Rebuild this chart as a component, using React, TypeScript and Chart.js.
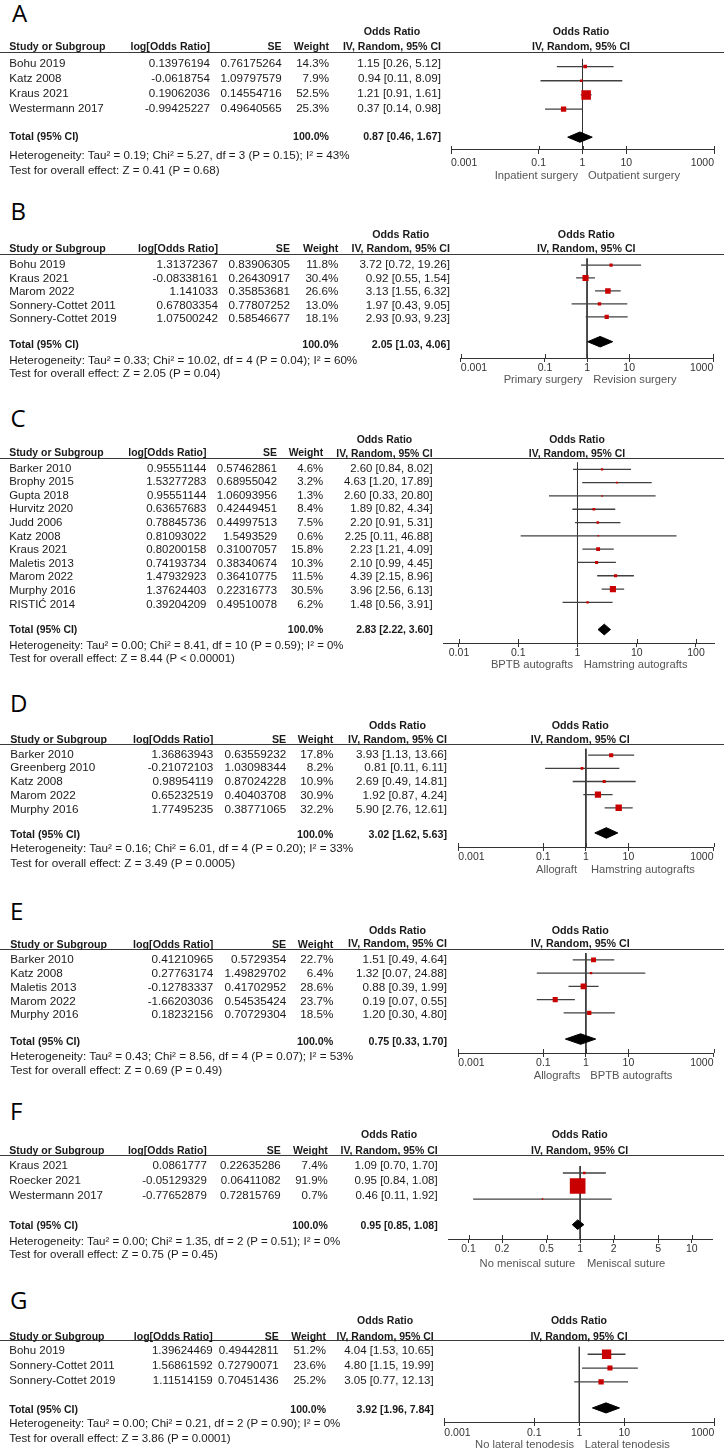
import React, { useEffect, useRef } from "react";
import { Chart, registerables } from "chart.js";

Chart.register(...registerables);

const FONT = '"Liberation Sans", Arial, Helvetica, sans-serif';
const W = 724;

// ---------------- Data ----------------
const ticksWide = [0.001, 0.1, 1, 10, 1000];
const tickLabelsWide = ["0.001", "0.1", "1", "10", "1000"];
const ticksC = [0.01, 0.1, 1, 10, 100];
const tickLabelsC = ["0.01", "0.1", "1", "10", "100"];
const ticksF = [0.1, 0.2, 0.5, 1, 2, 5, 10];
const tickLabelsF = ["0.1", "0.2", "0.5", "1", "2", "5", "10"];
const totalWeightLabel = "100.0%";

// Panel A
const studiesA = ["Bohu 2019", "Katz 2008", "Kraus 2021", "Westermann 2017"];
const logOrA = [0.13976194, -0.0618754, 0.19062036, -0.99425227];
const seA = [0.76175264, 1.09797579, 0.14554716, 0.49640565];
const weightA = [14.3, 7.9, 52.5, 25.3];
const orA = [1.15, 0.94, 1.21, 0.37];
const lowA = [0.26, 0.11, 0.91, 0.14];
const highA = [5.12, 8.09, 1.61, 0.98];
const totalA = [0.87, 0.46, 1.67];
const hetA = "Heterogeneity: Tau² = 0.19; Chi² = 5.27, df = 3 (P = 0.15); I² = 43%";
const testA = "Test for overall effect: Z = 0.41 (P = 0.68)";
const favA = ["Inpatient surgery", "Outpatient surgery"];

// Panel B
const studiesB = ["Bohu 2019", "Kraus 2021", "Marom 2022", "Sonnery-Cottet 2011", "Sonnery-Cottet 2019"];
const logOrB = [1.31372367, -0.08338161, 1.141033, 0.67803354, 1.07500242];
const seB = [0.83906305, 0.26430917, 0.35853681, 0.77807252, 0.58546677];
const weightB = [11.8, 30.4, 26.6, 13.0, 18.1];
const orB = [3.72, 0.92, 3.13, 1.97, 2.93];
const lowB = [0.72, 0.55, 1.55, 0.43, 0.93];
const highB = [19.26, 1.54, 6.32, 9.05, 9.23];
const totalB = [2.05, 1.03, 4.06];
const hetB = "Heterogeneity: Tau² = 0.33; Chi² = 10.02, df = 4 (P = 0.04); I² = 60%";
const testB = "Test for overall effect: Z = 2.05 (P = 0.04)";
const favB = ["Primary surgery", "Revision surgery"];

// Panel C
const studiesC = ["Barker 2010", "Brophy 2015", "Gupta 2018", "Hurvitz 2020", "Judd 2006", "Katz 2008", "Kraus 2021", "Maletis 2013", "Marom 2022", "Murphy 2016", "RISTIĆ 2014"];
const logOrC = [0.95551144, 1.53277283, 0.95551144, 0.63657683, 0.78845736, 0.81093022, 0.80200158, 0.74193734, 1.47932923, 1.37624403, 0.39204209];
const seC = [0.57462861, 0.68955042, 1.06093956, 0.42449451, 0.44997513, 1.5493529, 0.31007057, 0.38340674, 0.36410775, 0.22316773, 0.49510078];
const weightC = [4.6, 3.2, 1.3, 8.4, 7.5, 0.6, 15.8, 10.3, 11.5, 30.5, 6.2];
const orC = [2.6, 4.63, 2.6, 1.89, 2.2, 2.25, 2.23, 2.1, 4.39, 3.96, 1.48];
const lowC = [0.84, 1.2, 0.33, 0.82, 0.91, 0.11, 1.21, 0.99, 2.15, 2.56, 0.56];
const highC = [8.02, 17.89, 20.8, 4.34, 5.31, 46.88, 4.09, 4.45, 8.96, 6.13, 3.91];
const totalC = [2.83, 2.22, 3.6];
const hetC = "Heterogeneity: Tau² = 0.00; Chi² = 8.41, df = 10 (P = 0.59); I² = 0%";
const testC = "Test for overall effect: Z = 8.44 (P < 0.00001)";
const favC = ["BPTB autografts", "Hamstring autografts"];

// Panel D
const studiesD = ["Barker 2010", "Greenberg 2010", "Katz 2008", "Marom 2022", "Murphy 2016"];
const logOrD = [1.36863943, -0.21072103, 0.98954119, 0.65232519, 1.77495235];
const seD = [0.63559232, 1.03098344, 0.87024228, 0.40403708, 0.38771065];
const weightD = [17.8, 8.2, 10.9, 30.9, 32.2];
const orD = [3.93, 0.81, 2.69, 1.92, 5.9];
const lowD = [1.13, 0.11, 0.49, 0.87, 2.76];
const highD = [13.66, 6.11, 14.81, 4.24, 12.61];
const totalD = [3.02, 1.62, 5.63];
const hetD = "Heterogeneity: Tau² = 0.16; Chi² = 6.01, df = 4 (P = 0.20); I² = 33%";
const testD = "Test for overall effect: Z = 3.49 (P = 0.0005)";
const favD = ["Allograft", "Hamstring autografts"];

// Panel E
const studiesE = ["Barker 2010", "Katz 2008", "Maletis 2013", "Marom 2022", "Murphy 2016"];
const logOrE = [0.41210965, 0.27763174, -0.12783337, -1.66203036, 0.18232156];
const seE = [0.5729354, 1.49829702, 0.41702952, 0.54535424, 0.70729304];
const weightE = [22.7, 6.4, 28.6, 23.7, 18.5];
const orE = [1.51, 1.32, 0.88, 0.19, 1.2];
const lowE = [0.49, 0.07, 0.39, 0.07, 0.3];
const highE = [4.64, 24.88, 1.99, 0.55, 4.8];
const totalE = [0.75, 0.33, 1.7];
const hetE = "Heterogeneity: Tau² = 0.43; Chi² = 8.56, df = 4 (P = 0.07); I² = 53%";
const testE = "Test for overall effect: Z = 0.69 (P = 0.49)";
const favE = ["Allografts", "BPTB autografts"];

// Panel F
const studiesF = ["Kraus 2021", "Roecker 2021", "Westermann 2017"];
const logOrF = [0.0861777, -0.05129329, -0.77652879];
const seF = [0.22635286, 0.06411082, 0.72815769];
const weightF = [7.4, 91.9, 0.7];
const orF = [1.09, 0.95, 0.46];
const lowF = [0.7, 0.84, 0.11];
const highF = [1.7, 1.08, 1.92];
const totalF = [0.95, 0.85, 1.08];
const hetF = "Heterogeneity: Tau² = 0.00; Chi² = 1.35, df = 2 (P = 0.51); I² = 0%";
const testF = "Test for overall effect: Z = 0.75 (P = 0.45)";
const favF = ["No meniscal suture", "Meniscal suture"];

// Panel G
const studiesG = ["Bohu 2019", "Sonnery-Cottet 2011", "Sonnery-Cottet 2019"];
const logOrG = [1.39624469, 1.56861592, 1.11514159];
const seG = [0.49442811, 0.72790071, 0.70451436];
const weightG = [51.2, 23.6, 25.2];
const orG = [4.04, 4.8, 3.05];
const lowG = [1.53, 1.15, 0.77];
const highG = [10.65, 19.99, 12.13];
const totalG = [3.92, 1.96, 7.84];
const hetG = "Heterogeneity: Tau² = 0.00; Chi² = 0.21, df = 2 (P = 0.90); I² = 0%";
const testG = "Test for overall effect: Z = 3.86 (P = 0.0001)";
const favG = ["No lateral tenodesis", "Lateral tenodesis"];

// ---------------- Layout (pixels) ----------------
const layoutA = { letterX: 12, letterTop: 5, fs: 11.6, hdr1: 31.7, hdr2: 46.7, line: 51.7, row0: 60.4, step: 15.23, textOff: 2.2, total: 136.2, totalText: 136.7, het: 155, test: 170, axis: 150, tickGap: 12.7, dir: 176, study: 9.3, logR: 210, seR: 281.7, wR: 329, orR: 441, plotHdrC: 581, axisL: 451, axisR: 714, xMin: 0.001, xMax: 1000, align: "inner", dirL: 578, dirR: 588 };
const layoutB = { letterX: 10.5, letterTop: 203, fs: 11.65, hdr1: 235, hdr2: 248.3, line: 254.3, row0: 261, step: 13.5, textOff: 3, total: 341, totalText: 344.7, het: 360, test: 373.3, axis: 358, tickGap: 10.5, dir: 380, study: 9.2, logR: 218, seR: 290, wR: 338.4, orR: 450, plotHdrC: 586.3, axisL: 460.8, axisR: 713.3, xMin: 0.001, xMax: 1000, align: "inner", dirL: 582.6, dirR: 593.3 };
const layoutC = { letterX: 10.5, letterTop: 410, fs: 11.4, hdr1: 440, hdr2: 453.3, line: 458.3, row0: 465.2, step: 13.62, textOff: 3, total: 629.2, totalText: 630.7, het: 645.7, test: 659, axis: 642.7, tickGap: 10.6, dir: 665, study: 9.2, logR: 206.4, seR: 277, wR: 323.2, orR: 432.6, plotHdrC: 577, axisL: 443, axisR: 714.3, xMin: 0.00537, xMax: 203.7, align: "center", dirL: 573, dirR: 583.7 };
const layoutD = { letterX: 10, letterTop: 695, fs: 11.7, hdr1: 725, hdr2: 739.3, line: 744, row0: 751, step: 13.75, textOff: 2.5, total: 832.3, totalText: 834, het: 848.3, test: 862.7, axis: 846.7, tickGap: 10, dir: 870, study: 10.2, logR: 213.3, seR: 286.2, wR: 333.3, orR: 447, plotHdrC: 580.3, axisL: 458.3, axisR: 713.5, xMin: 0.001, xMax: 1000, align: "inner", dirL: 577, dirR: 591 };
const layoutE = { letterX: 10, letterTop: 903, fs: 11.7, hdr1: 930.7, hdr2: 944, line: 949, row0: 956, step: 13.8, textOff: 3, total: 1038.5, totalText: 1041.7, het: 1055.7, test: 1070, axis: 1053, tickGap: 10.2, dir: 1075.7, study: 10.2, logR: 213.3, seR: 286.2, wR: 333.3, orR: 447, plotHdrC: 580.3, axisL: 458.3, axisR: 713.5, xMin: 0.001, xMax: 1000, align: "inner", dirL: 580.3, dirR: 590.3 };
const layoutF = { letterX: 10, letterTop: 1103, fs: 11.5, hdr1: 1134, hdr2: 1150, line: 1154.7, row0: 1163, step: 15, textOff: 2.5, total: 1222.5, totalText: 1225, het: 1241.7, test: 1255, axis: 1238.5, tickGap: 10, dir: 1263.3, study: 9.2, logR: 206.8, seR: 280.7, wR: 327.8, orR: 437.7, plotHdrC: 579.7, axisL: 448.7, axisR: 714.3, xMin: 0.0664, xMax: 15.49, align: "center", dirL: 575.3, dirR: 587 };
const layoutG = { letterX: 10, letterTop: 1291.7, fs: 11.5, hdr1: 1320, hdr2: 1336, line: 1340, row0: 1348.3, step: 15, textOff: 2, total: 1406.7, totalText: 1409.3, het: 1423.3, test: 1438.3, axis: 1421.7, tickGap: 11, dir: 1445, study: 9.3, logR: 212.7, seR: 278.7, wR: 326, orR: 433.7, plotHdrC: 579, axisL: 444.3, axisR: 714.3, xMin: 0.001, xMax: 1000, align: "inner", dirL: 574, dirR: 584.7 };

const panels = [
  { letter: "A", studies: studiesA, logOr: logOrA, se: seA, weight: weightA, or: orA, low: lowA, high: highA, total: totalA, het: hetA, test: testA, fav: favA, ticks: ticksWide, tickLabels: tickLabelsWide, L: layoutA },
  { letter: "B", studies: studiesB, logOr: logOrB, se: seB, weight: weightB, or: orB, low: lowB, high: highB, total: totalB, het: hetB, test: testB, fav: favB, ticks: ticksWide, tickLabels: tickLabelsWide, L: layoutB },
  { letter: "C", studies: studiesC, logOr: logOrC, se: seC, weight: weightC, or: orC, low: lowC, high: highC, total: totalC, het: hetC, test: testC, fav: favC, ticks: ticksC, tickLabels: tickLabelsC, L: layoutC },
  { letter: "D", studies: studiesD, logOr: logOrD, se: seD, weight: weightD, or: orD, low: lowD, high: highD, total: totalD, het: hetD, test: testD, fav: favD, ticks: ticksWide, tickLabels: tickLabelsWide, L: layoutD },
  { letter: "E", studies: studiesE, logOr: logOrE, se: seE, weight: weightE, or: orE, low: lowE, high: highE, total: totalE, het: hetE, test: testE, fav: favE, ticks: ticksWide, tickLabels: tickLabelsWide, L: layoutE },
  { letter: "F", studies: studiesF, logOr: logOrF, se: seF, weight: weightF, or: orF, low: lowF, high: highF, total: totalF, het: hetF, test: testF, fav: favF, ticks: ticksF, tickLabels: tickLabelsF, L: layoutF },
  { letter: "G", studies: studiesG, logOr: logOrG, se: seG, weight: weightG, or: orG, low: lowG, high: highG, total: totalG, het: hetG, test: testG, fav: favG, ticks: ticksWide, tickLabels: tickLabelsWide, L: layoutG },
];

const TEXT = "#1a1a1a";
const fmt2 = (v: number) => v.toFixed(2);
const ciText = (e: number, lo: number, hi: number) => `${fmt2(e)} [${fmt2(lo)}, ${fmt2(hi)}]`;

function Txt(props: { x: number; y: number; text: string; fs: number; align?: string; bold?: boolean; color?: string }) {
  const { x, y, text, fs, align = "left", bold = false, color = TEXT } = props;
  const style: any = {
    position: "absolute",
    top: y - fs * 0.5,
    fontSize: fs,
    lineHeight: `${fs}px`,
    fontFamily: FONT,
    fontWeight: bold ? 700 : 400,
    color,
    whiteSpace: "nowrap",
  };
  if (align === "left") style.left = x;
  else if (align === "right") style.right = W - x;
  else {
    style.left = x;
    style.transform = "translateX(-50%)";
  }
  return <div style={style}>{text}</div>;
}

function Forest({ p }: { p: any }) {
  const ref = useRef<HTMLCanvasElement>(null);
  const L = p.L;
  const top = Math.round(L.line);
  const bottomAbs = Math.round(L.axis);
  const axisBox = 30;
  const h = bottomAbs - top + axisBox;

  useEffect(() => {
    const yMin = (top - L.row0) / L.step;
    const yMax = (bottomAbs - L.row0) / L.step;
    const tY = (L.total - L.row0) / L.step;
    const dh = 5.5 / L.step;

    const ciSets = p.studies.map((_: string, i: number) => ({
      data: [
        { x: p.low[i], y: i },
        { x: p.high[i], y: i },
      ],
      showLine: true,
      borderColor: "#404040",
      borderWidth: 1.3,
      pointRadius: 0,
      order: 3,
    }));
    const squares = {
      data: p.or.map((v: number, i: number) => ({ x: v, y: i })),
      pointStyle: "rect",
      pointRadius: p.weight.map((w: number) => (1.4 + 0.155 * w) / Math.SQRT2),
      pointBackgroundColor: "#c80000",
      backgroundColor: "#c80000",
      pointBorderWidth: 0,
      borderWidth: 0,
      showLine: false,
      order: 1,
    };
    const diamond = {
      data: [
        { x: p.total[1], y: tY },
        { x: p.total[0], y: tY - dh },
        { x: p.total[2], y: tY },
        { x: p.total[0], y: tY + dh },
        { x: p.total[1], y: tY },
      ],
      showLine: true,
      fill: "shape",
      backgroundColor: "#000",
      borderColor: "#000",
      borderWidth: 1,
      pointRadius: 0,
      tension: 0,
      order: 2,
    };
    const vline = {
      data: [
        { x: 1, y: yMin },
        { x: 1, y: yMax },
      ],
      showLine: true,
      borderColor: "#333",
      borderWidth: 1,
      pointRadius: 0,
      order: 5,
    };

    const upTicks = {
      id: "upTicks",
      afterDraw(chart: any) {
        const xs = chart.scales.x;
        const ctx = chart.ctx;
        const b = chart.chartArea.bottom;
        ctx.save();
        ctx.strokeStyle = "#333";
        ctx.lineWidth = 1;
        ctx.beginPath();
        for (const t of xs.ticks) {
          const x = Math.round(xs.getPixelForValue(t.value)) + 0.5;
          ctx.moveTo(x, b - 4);
          ctx.lineTo(x, b);
        }
        ctx.stroke();
        ctx.restore();
      },
    };

    const chart = new Chart(ref.current as HTMLCanvasElement, {
      type: "scatter",
      data: { datasets: [vline, ...ciSets, diamond, squares] as any },
      options: {
        animation: false,
        responsive: false,
        events: [],
        layout: { padding: { left: L.axisL, right: W - L.axisR, top: 0, bottom: 0 } },
        plugins: { legend: { display: false }, tooltip: { enabled: false } },
        scales: {
          x: {
            type: "logarithmic",
            min: L.xMin,
            max: L.xMax,
            position: "bottom",
            afterBuildTicks: (s: any) => {
              s.ticks = p.ticks.map((v: number) => ({ value: v }));
            },
            afterFit: (s: any) => {
              s.height = axisBox;
              s.paddingLeft = 0;
              s.paddingRight = 0;
            },
            ticks: {
              autoSkip: false,
              maxRotation: 0,
              minRotation: 0,
              align: L.align,
              padding: Math.max(0, L.tickGap - 10.3),
              color: "#333",
              font: { family: FONT, size: 10.5 },
              callback: (v: any) => {
                const k = p.ticks.indexOf(Number(v));
                return k >= 0 ? p.tickLabels[k] : "";
              },
            },
            grid: { display: true, drawOnChartArea: false, drawTicks: true, tickLength: 4, color: "#333", lineWidth: 1 },
            border: { display: true, color: "#333", width: 1 },
          },
          y: { type: "linear", reverse: true, min: yMin, max: yMax, display: false },
        },
      } as any,
      plugins: [upTicks],
    });
    return () => chart.destroy();
  }, []);

  return (
    <canvas
      ref={ref}
      width={W}
      height={h}
      style={{ position: "absolute", left: 0, top, width: W, height: h, display: "block" }}
    />
  );
}

function Panel({ p }: { p: any }) {
  const L = p.L;
  const fs = L.fs;
  const fb = +(fs * 0.915).toFixed(2);
  const hdrLH = L.hdr2 - L.hdr1;
  const hdrBlock = (extra: any) => ({
    position: "absolute",
    top: L.hdr1 - hdrLH / 2,
    fontFamily: FONT,
    fontWeight: 700,
    fontSize: fb,
    lineHeight: `${hdrLH}px`,
    color: TEXT,
    whiteSpace: "nowrap",
    textAlign: "center",
    ...extra,
  });
  return (
    <>
      <Forest p={p} />
      <div
        style={{
          position: "absolute",
          left: L.letterX,
          top: L.letterTop - 0.174 * 24,
          fontFamily: '"Open Sans", "Noto Sans", sans-serif',
          fontSize: 24,
          lineHeight: "24px",
          color: "#000",
        }}
      >
        {p.letter}
      </div>
      <div style={{ position: "absolute", left: 0, top: Math.round(L.line), width: W, height: 1, background: "#3a3a3a" }} />
      <div style={hdrBlock({ right: W - L.orR })}>
        <div>Odds Ratio</div>
        <div>IV, Random, 95% CI</div>
      </div>
      <div style={hdrBlock({ left: L.plotHdrC, transform: "translateX(-50%)" })}>
        <div>Odds Ratio</div>
        <div>IV, Random, 95% CI</div>
      </div>
      <Txt x={L.study} y={L.hdr2} text="Study or Subgroup" fs={fb} bold />
      <Txt x={L.logR} y={L.hdr2} text="log[Odds Ratio]" fs={fb} bold align="right" />
      <Txt x={L.seR} y={L.hdr2} text="SE" fs={fb} bold align="right" />
      <Txt x={L.wR} y={L.hdr2} text="Weight" fs={fb} bold align="right" />
      {p.studies.map((s: string, i: number) => {
        const y = L.row0 + L.textOff + i * L.step;
        return (
          <React.Fragment key={s + i}>
            <Txt x={L.study} y={y} text={s} fs={fs} />
            <Txt x={L.logR} y={y} text={String(p.logOr[i])} fs={fs} align="right" />
            <Txt x={L.seR} y={y} text={String(p.se[i])} fs={fs} align="right" />
            <Txt x={L.wR} y={y} text={p.weight[i].toFixed(1) + "%"} fs={fs} align="right" />
            <Txt x={L.orR} y={y} text={ciText(p.or[i], p.low[i], p.high[i])} fs={fs} align="right" />
          </React.Fragment>
        );
      })}
      <Txt x={L.study} y={L.totalText} text="Total (95% CI)" fs={fb} bold />
      <Txt x={L.wR} y={L.totalText} text={totalWeightLabel} fs={fb} bold align="right" />
      <Txt x={L.orR} y={L.totalText} text={ciText(p.total[0], p.total[1], p.total[2])} fs={fb} bold align="right" />
      <Txt x={L.study} y={L.het} text={p.het} fs={fs} />
      <Txt x={L.study} y={L.test} text={p.test} fs={fs} />
      <Txt x={L.dirL} y={L.dir} text={p.fav[0]} fs={11.2} align="right" color="#555" />
      <Txt x={L.dirR} y={L.dir} text={p.fav[1]} fs={11.2} color="#555" />
    </>
  );
}

export default function App() {
  return (
    <div style={{ position: "absolute", left: 0, top: 0, width: W, height: 1451, background: "#fff", overflow: "hidden" }}>
      {panels.map((p) => (
        <Panel key={p.letter} p={p} />
      ))}
    </div>
  );
}
